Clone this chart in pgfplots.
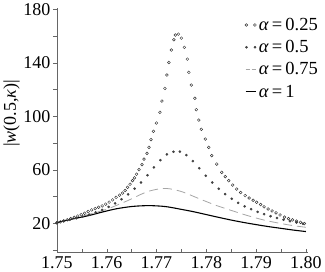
\documentclass[border=0pt]{standalone}
\usepackage{pgfplots}
\pgfplotsset{compat=1.18}
\usepackage{fontspec}
\setmainfont{Liberation Serif}
\begin{document}
\begin{tikzpicture}
\begin{axis}[
  scale only axis,
  width=251bp, height=244bp,
  xmin=1.75, xmax=1.8005,
  ymin=-2, ymax=181,
  axis lines*=left,
  axis line style={black!60, line width=0.5pt},
  tick style={black!60},
  tick align=inside,
  major tick length=4bp, minor tick length=4bp,
  y tick style={xshift=-4bp},
  yticklabel style={xshift=-3bp},
  xtick={1.75,1.76,1.77,1.78,1.79,1.80},
  ytick={20,60,100,140,180},
  minor xtick={1.755,1.765,1.775,1.785,1.795},
  minor ytick={0,40,80,120,160},
  xticklabel style={/pgf/number format/.cd,fixed,fixed zerofill,precision=2},
  /pgf/number format/assume math mode=true,
  scaled x ticks=false,
  tick label style={font=\fontsize{18}{20}\selectfont},
  ylabel={|\textit{w}(0.5,\textit{κ})|},
  ylabel style={font=\fontsize{18}{20}\selectfont, at={(axis description cs:-0.18,0.57)}, anchor=center},
  legend style={draw=none, fill=none, font=\fontsize{18.5}{20}\selectfont,
    at={(1.05,0.972)}, anchor=north east, inner sep=1pt, row sep=4.5pt},
  legend cell align=left,
  clip=false,
]
\addplot[only marks, mark=o, mark size=1.4pt, black!80, line width=0.45pt,
  legend image code/.code={\draw plot coordinates {(0.03cm,0cm) (0.33cm,0cm)};}]
coordinates {
(1.7500,20.2)(1.7507,21.0)(1.7514,21.8)(1.7521,22.6)(1.7528,23.5)(1.7535,24.4)
(1.7542,25.4)(1.7549,26.4)(1.7556,27.5)(1.7563,28.8)(1.7570,30.0)(1.7577,31.0)
(1.7584,32.0)(1.7591,33.0)(1.7598,34.3)(1.7605,35.8)(1.7612,37.5)(1.7619,39.4)
(1.7626,41.0)(1.7632,42.6)(1.7637,44.5)(1.7642,46.9)(1.7647,49.2)(1.7652,51.9)
(1.7656,54.0)(1.7660,56.7)(1.7665,60.1)(1.7671,63.9)(1.7675,68.0)(1.7681,72.3)
(1.7685,76.8)(1.7689,82.6)(1.7694,88.8)(1.7700,95.0)(1.7707,103.0)(1.7711,111.4)
(1.7717,120.9)(1.7721,130.9)(1.7725,140.3)(1.7730,149.6)(1.7735,157.3)(1.7738,160.8)
(1.7744,161.5)(1.7750,158.5)(1.7756,151.6)(1.7762,142.8)(1.7765,132.9)(1.7770,123.4)
(1.7777,113.5)(1.7780,105.0)(1.7785,97.2)(1.7790,90.3)(1.7798,83.0)(1.7805,76.8)
(1.7811,70.6)(1.7821,64.3)(1.7831,58.1)(1.7838,54.9)(1.7845,51.9)(1.7853,48.6)
(1.7861,45.6)(1.7869,43.0)(1.7878,40.7)(1.7886,38.9)(1.7894,37.2)(1.7901,35.7)
(1.7909,34.0)(1.7916,32.3)(1.7924,30.7)(1.7932,29.2)(1.7940,27.8)(1.7948,26.2)
(1.7957,24.6)(1.7965,23.5)(1.7973,22.5)(1.7981,21.6)(1.7989,20.7)(1.7997,19.8)
};
\addlegendentry{\textit{α}\,=\,0.25}
\addplot[only marks, mark=*, mark size=1.1pt, black!75,
  legend image code/.code={\draw plot coordinates {(0.03cm,0cm) (0.33cm,0cm)};}]
coordinates {
(1.7500,20.6)(1.7513,21.6)(1.7526,22.6)(1.7539,23.8)(1.7552,25.1)(1.7565,26.5)
(1.7578,28.1)(1.7591,30.0)(1.7604,32.2)(1.7617,34.9)(1.7630,38.0)(1.7643,41.6)
(1.7656,45.9)(1.7669,50.5)(1.7682,56.0)(1.7695,61.8)(1.7708,67.2)(1.7721,71.5)
(1.7734,73.5)(1.7747,73.6)(1.7760,71.0)(1.7773,66.5)(1.7786,61.2)(1.7799,55.6)
(1.7812,50.5)(1.7825,45.8)(1.7838,41.8)(1.7851,38.3)(1.7864,35.3)(1.7877,32.7)
(1.7890,30.5)(1.7903,28.5)(1.7916,26.8)(1.7929,25.3)(1.7942,23.9)(1.7955,22.7)
(1.7968,21.6)(1.7981,20.6)(1.7994,19.7)
};
\addlegendentry{\textit{α}\,=\,0.5}
\addplot[smooth, black!35, line width=0.8pt, dash pattern=on 9pt off 5pt,
  legend image code/.code={\draw[dash pattern=on 4pt off 2pt] (0cm,0cm) -- (0.38cm,0cm);}]
coordinates {
(1.7500,20.6)(1.7533,23.6)(1.7566,26.8)(1.7600,30.5)(1.7632,35.3)(1.7652,38.6)
(1.7668,41.5)(1.7685,44.0)(1.7702,45.5)(1.7715,46.0)(1.7728,45.7)(1.7752,43.5)
(1.7785,38.5)(1.7818,33.6)(1.7851,29.5)(1.7885,25.5)(1.7918,22.2)(1.7950,19.8)
(1.7975,18.2)(1.8000,17.0)
};
\addlegendentry{\textit{α}\,=\,0.75}
\addplot[smooth, black, line width=1.1pt,
  legend image code/.code={\draw (0cm,0cm) -- (0.38cm,0cm);}]
coordinates {
(1.7500,20.5)(1.7533,23.3)(1.7566,25.9)(1.7586,27.9)(1.7619,30.8)(1.7652,32.6)
(1.7685,33.2)(1.7718,32.5)(1.7750,30.4)(1.7775,28.6)(1.7800,26.5)(1.7825,24.4)
(1.7850,22.4)(1.7875,20.6)(1.7900,19.0)(1.7925,17.5)(1.7950,16.2)(1.7975,14.9)
(1.8000,13.8)
};
\addlegendentry{\textit{α}\,=\,1}
\end{axis}
\end{tikzpicture}
\end{document}
